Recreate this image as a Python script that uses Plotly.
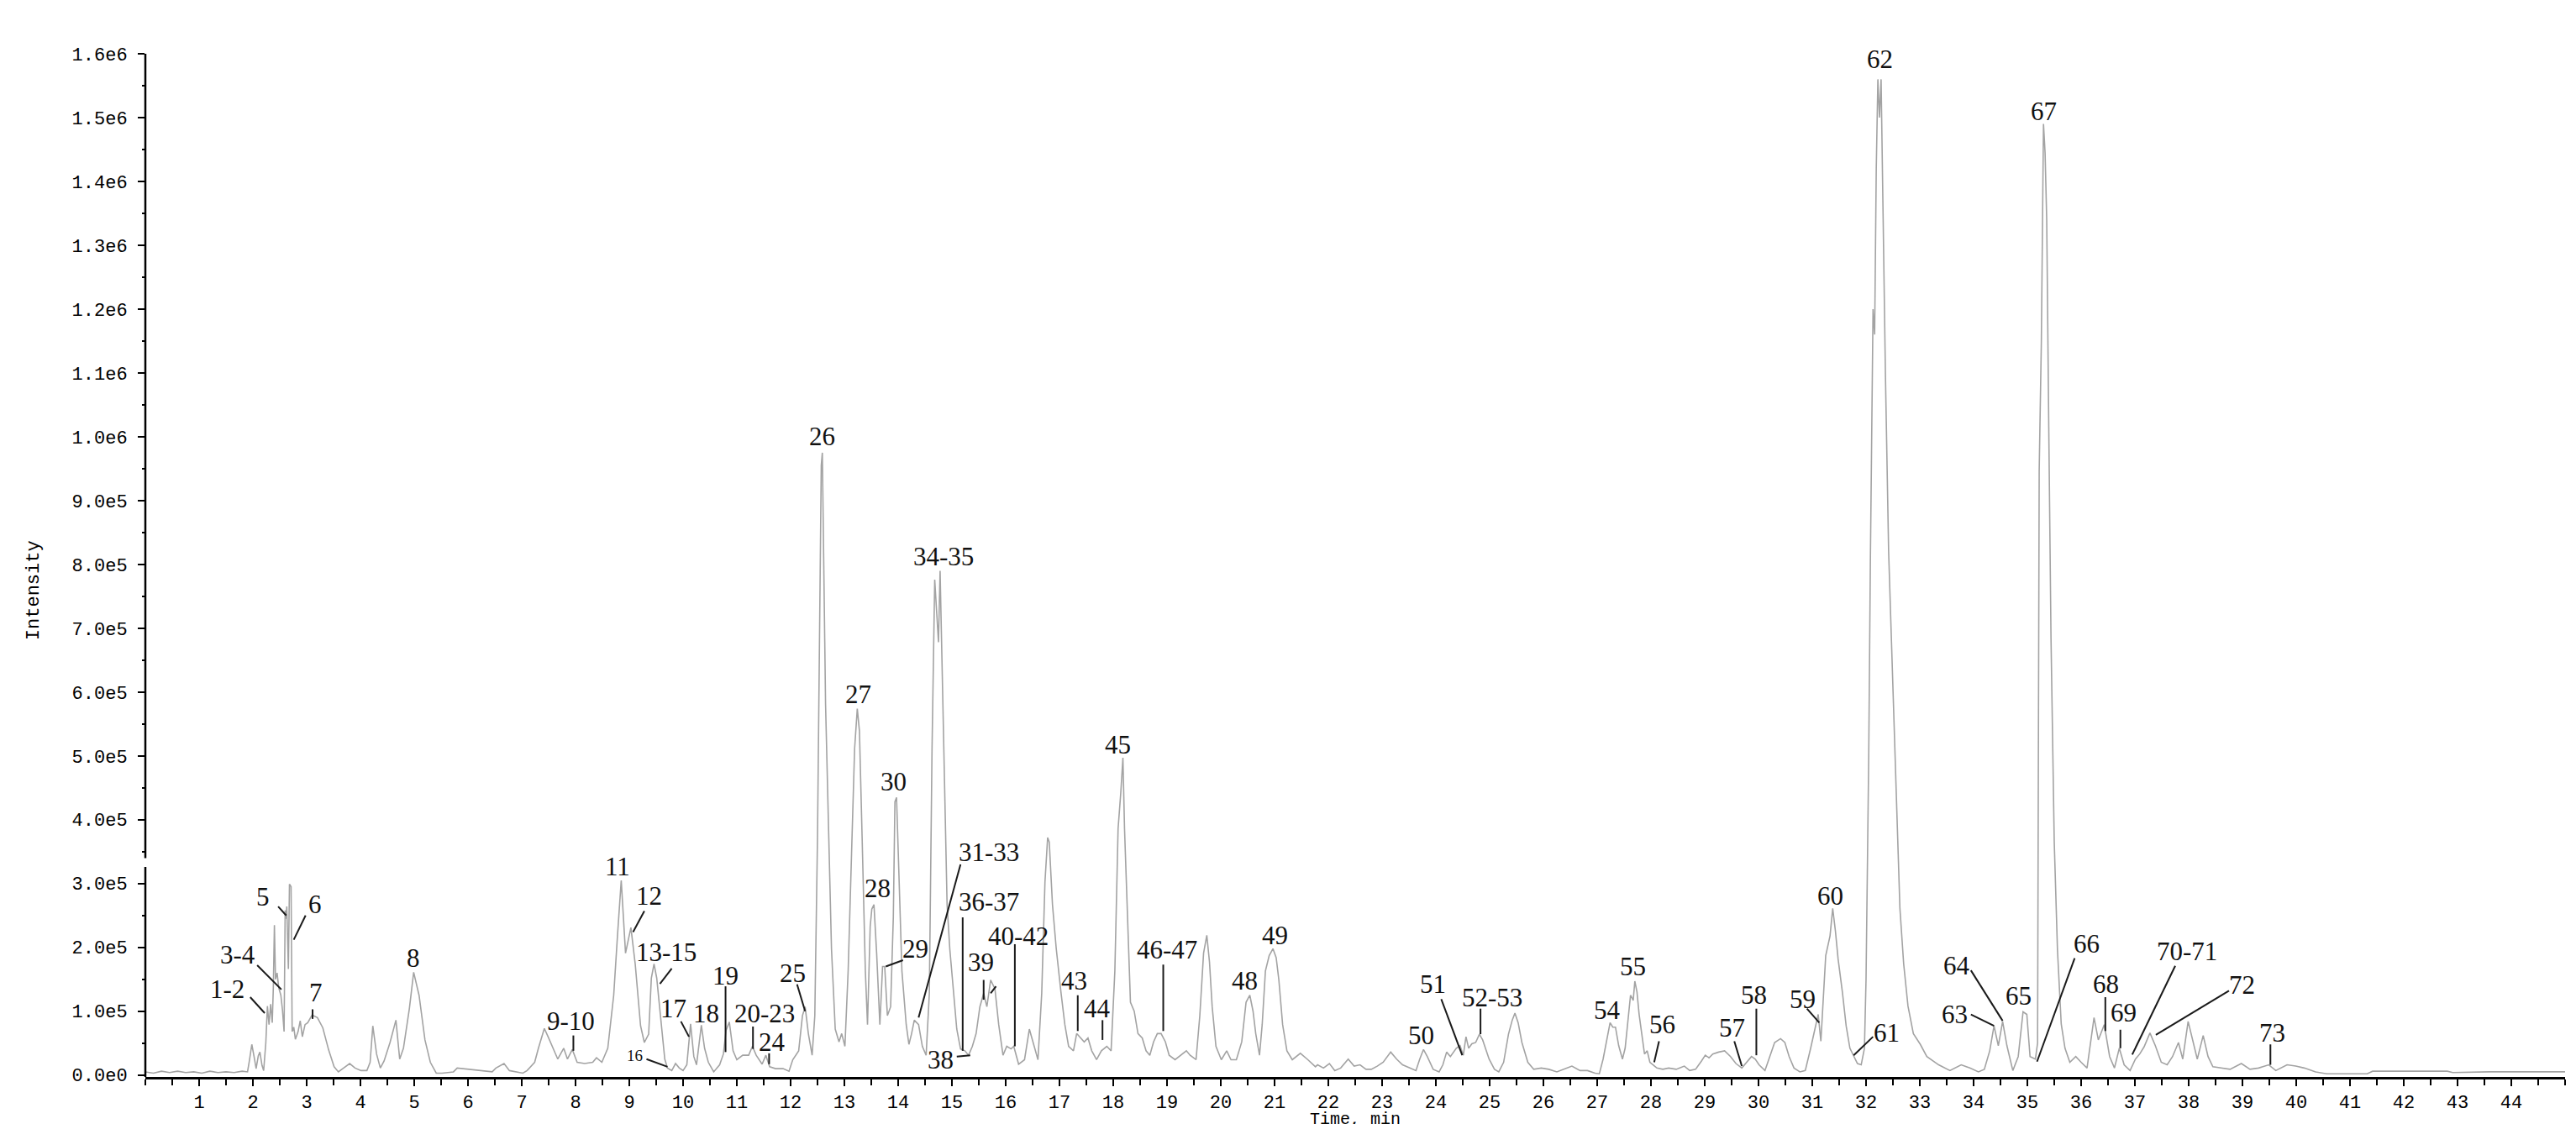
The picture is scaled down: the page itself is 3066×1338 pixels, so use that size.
import math
import plotly.graph_objects as go

# ---------------- data ----------------
# retention time, min
time_min = [
    0.0, 0.15, 0.3, 0.45, 0.6, 0.75, 0.9, 1.05, 1.2, 1.35, 1.5, 1.65, 1.8, 1.9,
    1.93, 1.98, 2.03, 2.06, 2.10, 2.13, 2.17, 2.20, 2.24, 2.27, 2.30, 2.33, 2.36, 2.38,
    2.40, 2.42, 2.45, 2.48, 2.52, 2.55, 2.58, 2.60, 2.62, 2.63, 2.66, 2.68, 2.71, 2.73,
    2.76, 2.79, 2.84, 2.88, 2.92, 2.97, 3.02, 3.10, 3.20, 3.30, 3.41, 3.51, 3.59, 3.65,
    3.80, 3.90, 4.01, 4.12, 4.18, 4.23, 4.30, 4.37, 4.44, 4.55, 4.66, 4.73, 4.80, 4.91,
    4.99, 5.09, 5.20, 5.30, 5.41, 5.52, 5.73, 5.80, 6.02, 6.23, 6.45, 6.52, 6.67, 6.77,
    6.88, 7.02, 7.10, 7.24, 7.31, 7.42, 7.49, 7.60, 7.67, 7.78, 7.85, 7.94, 8.03, 8.17,
    8.32, 8.39, 8.49, 8.60, 8.71, 8.78, 8.85, 8.93, 8.98, 9.03, 9.11, 9.21, 9.28, 9.36,
    9.41, 9.46, 9.51, 9.57, 9.66, 9.71, 9.79, 9.86, 9.93, 10.00, 10.07, 10.14, 10.20,
    10.25, 10.34, 10.40, 10.47, 10.57, 10.68, 10.75, 10.80, 10.86, 10.93, 11.00, 11.11,
    11.22, 11.29, 11.36, 11.47, 11.54, 11.61, 11.72, 11.86, 11.97, 12.04, 12.15, 12.22,
    12.27, 12.33, 12.40, 12.45, 12.50, 12.53, 12.57, 12.59, 12.62, 12.65, 12.71, 12.76,
    12.83, 12.90, 12.95, 13.01, 13.07, 13.14, 13.19, 13.24, 13.28, 13.33, 13.39, 13.43,
    13.48, 13.51, 13.55, 13.60, 13.66, 13.71, 13.75, 13.80, 13.86, 13.91, 13.94, 13.97,
    14.02, 14.07, 14.15, 14.20, 14.25, 14.30, 14.38, 14.45, 14.52, 14.58, 14.63, 14.68,
    14.71, 14.75, 14.78, 14.82, 14.86, 14.91, 14.96, 15.02, 15.09, 15.16, 15.24, 15.31,
    15.38, 15.45, 15.52, 15.59, 15.65, 15.72, 15.80, 15.87, 15.95, 16.02, 16.10, 16.15,
    16.24, 16.35, 16.44, 16.53, 16.60, 16.67, 16.73, 16.78, 16.81, 16.87, 16.94, 17.03,
    17.10, 17.17, 17.26, 17.32, 17.39, 17.46, 17.53, 17.60, 17.69, 17.78, 17.88, 17.96,
    18.03, 18.09, 18.14, 18.18, 18.21, 18.26, 18.32, 18.39, 18.46, 18.54, 18.61, 18.68,
    18.75, 18.82, 18.89, 18.97, 19.04, 19.15, 19.25, 19.36, 19.43, 19.54, 19.61, 19.68,
    19.74, 19.79, 19.84, 19.91, 20.01, 20.11, 20.19, 20.29, 20.39, 20.47, 20.54, 20.60,
    20.65, 20.72, 20.77, 20.83, 20.90, 20.97, 21.03, 21.08, 21.15, 21.23, 21.33, 21.48,
    21.62, 21.76, 21.80, 21.91, 22.02, 22.12, 22.23, 22.37, 22.48, 22.59, 22.70, 22.80,
    22.91, 23.02, 23.16, 23.27, 23.38, 23.52, 23.63, 23.70, 23.77, 23.84, 23.95, 24.06,
    24.13, 24.20, 24.27, 24.38, 24.45, 24.51, 24.56, 24.61, 24.67, 24.74, 24.81, 24.87,
    24.92, 24.99, 25.09, 25.17, 25.26, 25.35, 25.42, 25.47, 25.53, 25.60, 25.71, 25.82,
    25.96, 26.10, 26.25, 26.39, 26.53, 26.68, 26.82, 26.96, 27.04, 27.11, 27.18, 27.24,
    27.29, 27.34, 27.40, 27.47, 27.52, 27.57, 27.62, 27.67, 27.70, 27.74, 27.78, 27.83,
    27.88, 27.93, 27.98, 28.04, 28.11, 28.22, 28.33, 28.47, 28.62, 28.72, 28.83, 28.94,
    29.01, 29.08, 29.15, 29.26, 29.37, 29.48, 29.58, 29.69, 29.78, 29.87, 29.94, 30.01,
    30.12, 30.23, 30.30, 30.41, 30.49, 30.57, 30.66, 30.77, 30.87, 30.97, 31.04, 31.11,
    31.16, 31.20, 31.25, 31.33, 31.38, 31.43, 31.48, 31.56, 31.63, 31.70, 31.77, 31.84,
    31.91, 31.97, 32.00, 32.02, 32.05, 32.08, 32.11, 32.13, 32.16, 32.19, 32.22, 32.25,
    32.28, 32.31, 32.36, 32.42, 32.48, 32.52, 32.56, 32.63, 32.70, 32.78, 32.88, 33.01,
    33.13, 33.35, 33.56, 33.77, 33.93, 34.09, 34.20, 34.30, 34.38, 34.46, 34.54, 34.62,
    34.73, 34.83, 34.92, 34.99, 35.05, 35.15, 35.19, 35.22, 35.26, 35.30, 35.33, 35.36,
    35.40, 35.44, 35.50, 35.56, 35.63, 35.70, 35.79, 35.90, 36.00, 36.11, 36.24, 36.32,
    36.43, 36.53, 36.62, 36.71, 36.80, 36.91, 37.01, 37.09, 37.17, 37.28, 37.38, 37.49,
    37.60, 37.70, 37.81, 37.89, 37.99, 38.07, 38.16, 38.27, 38.36, 38.45, 38.61, 38.77,
    38.98, 39.14, 39.30, 39.49, 39.62, 39.83, 39.99, 40.15, 40.36, 40.57, 41.32, 41.42,
    42.81, 42.91, 43.6, 44.3, 45.0,
]

# intensity, thousands of counts
intensity_k = [
    5, 3, 6, 4, 6, 4, 5, 3, 6, 4, 5, 4, 6, 5,
    20, 48, 25, 10, 30, 36, 15, 7, 50, 108, 79, 111, 82, 137,
    235, 150, 160, 137, 125, 102, 68, 258, 245, 264, 166, 299, 295, 68,
    75, 56, 68, 85, 60, 79, 82, 94, 90, 74, 39, 13, 5, 9,
    18, 11, 7, 7, 20, 77, 33, 11, 22, 51, 86, 25, 42, 104,
    161, 125, 55, 20, 3, 3, 5, 11, 9, 7, 5, 11, 18, 7,
    5, 3, 7, 20, 42, 73, 60, 38, 25, 42, 25, 40, 20, 18,
    20, 27, 20, 42, 125, 218, 305, 191, 209, 231, 174, 77, 51, 64,
    152, 174, 152, 104, 25, 11, 7, 18, 11, 7, 16, 80, 29,
    16, 78, 42, 20, 5, 16, 33, 70, 83, 38, 24, 31,
    31, 45, 31, 17, 31, 13, 10, 10, 6, 24, 38, 93,
    107, 65, 31, 93, 372, 616, 955, 975, 790, 581, 372, 198,
    72, 52, 65, 45, 163, 372, 511, 574, 539, 372, 163, 79,
    233, 260, 267, 191, 79, 170, 170, 93, 107, 247, 428, 435,
    302, 163, 79, 48, 65, 86, 79, 45, 31, 128, 511, 776,
    734, 678, 790, 616, 442, 267, 198, 142, 72, 41, 38, 31,
    45, 65, 107, 128, 107, 149, 135, 79, 31, 45, 41, 45,
    17, 24, 72, 45, 24, 128, 302, 372, 365, 267, 198, 128,
    79, 45, 38, 65, 58, 52, 58, 38, 24, 38, 45, 38,
    163, 386, 442, 497, 386, 267, 114, 100, 65, 58, 38, 31,
    52, 65, 65, 52, 31, 24, 31, 38, 31, 24, 93, 191,
    219, 177, 107, 45, 24, 38, 24, 24, 52, 114, 125, 100,
    65, 31, 79, 163, 187, 198, 184, 149, 79, 38, 24, 34,
    24, 13, 16, 11, 18, 7, 11, 25, 14, 16, 9, 9,
    14, 20, 36, 25, 16, 11, 7, 25, 40, 29, 9, 5,
    16, 36, 29, 42, 46, 31, 60, 42, 49, 51, 64, 55,
    42, 25, 9, 5, 20, 64, 86, 97, 82, 51, 20, 9,
    11, 9, 5, 9, 14, 7, 7, 3, 2, 25, 55, 82,
    75, 75, 46, 25, 42, 86, 125, 117, 147, 130, 95, 64,
    33, 38, 20, 16, 11, 9, 11, 9, 14, 7, 9, 22,
    31, 27, 33, 36, 38, 29, 18, 11, 20, 29, 25, 16,
    7, 33, 51, 57, 51, 29, 11, 5, 7, 42, 68, 95,
    53, 108, 187, 218, 261, 226, 182, 130, 77, 42, 29, 18,
    16, 42, 150, 283, 500, 800, 1050, 1200, 1160, 1420, 1560, 1500,
    1560, 1380, 1100, 820, 660, 568, 437, 261, 174, 108, 65, 48,
    29, 16, 7, 16, 11, 5, 9, 38, 77, 46, 84, 46,
    7, 29, 99, 95, 29, 25, 50, 947, 1148, 1490, 1444, 1339,
    1000, 683, 365, 196, 80, 42, 20, 29, 20, 11, 90, 55,
    79, 29, 11, 42, 16, 7, 25, 33, 44, 66, 46, 20,
    16, 29, 51, 25, 84, 55, 25, 62, 29, 13, 11, 9,
    18, 9, 11, 16, 7, 16, 14, 11, 5, 2, 2, 6,
    6, 4, 5, 5, 5,
]

# peak labels: text, centre of the text (min, thousands of counts)
label_text = ["1-2", "3-4", "5", "6", "7", "8", "9-10", "11", "12", "13-15", "16", "17",
              "18", "19", "20-23", "24", "25", "26", "27", "28", "29", "30", "31-33",
              "34-35", "36-37", "38", "39", "40-42", "43", "44", "45", "46-47", "48",
              "49", "50", "51", "52-53", "54", "55", "56", "57", "58", "59", "60", "61",
              "62", "63", "64", "65", "66", "67", "68", "69", "70-71", "72", "73"]
label_t = [1.53, 1.72, 2.19, 3.15, 3.17, 4.98, 7.92, 8.78, 9.36, 9.68, 9.10, 9.82,
           10.43, 10.79, 11.51, 11.65, 12.04, 12.58, 13.26, 13.61, 14.32, 13.91, 15.68,
           14.84, 15.69, 14.79, 15.54, 16.23, 17.27, 17.71, 18.09, 19.00, 20.44,
           21.00, 23.72, 23.95, 25.04, 27.19, 27.66, 28.21, 29.51, 29.91, 30.82, 31.33, 32.38,
           32.25, 33.65, 33.69, 34.83, 36.10, 35.30, 36.46, 36.79, 37.97, 38.99, 39.56]
label_k = [134, 189, 279, 267, 129, 183, 84, 327, 281, 193, 31, 104,
           97, 156, 97, 52, 159, 1000, 596, 292, 198, 460, 349,
           812, 271, 24, 177, 217, 148, 104, 518, 196, 148,
           219, 62, 143, 121, 102, 170, 79, 74, 125, 119, 280, 66,
           1591, 95, 171, 124, 206, 1510, 143, 98, 194, 141, 66]

# leader lines: label, start (min, k), end (min, k)
leader_label = ["1-2", "3-4", "5", "6", "7", "9-10", "12", "13-15", "16", "17", "19",
                "20-23", "24", "25", "29", "31-33", "36-37", "38", "39", "39", "40-42",
                "43", "44", "46-47", "51", "52-53", "56", "57", "58", "59", "61", "63",
                "64", "66", "68", "69", "70-71", "72", "73"]
leader_t0 = [1.95, 2.08, 2.47, 2.98, 3.11, 7.96, 9.28, 9.79, 9.32, 9.96, 10.79,
             11.30, 11.60, 12.12, 14.09, 15.16, 15.20, 15.09, 15.59, 15.72, 16.17,
             17.34, 17.80, 18.93, 24.10, 24.83, 28.15, 29.55, 29.96, 30.90, 32.13, 33.95,
             33.95, 35.88, 36.45, 36.73, 37.75, 38.75, 39.52]
leader_k0 = [122, 172, 264, 250, 103, 62, 257, 167, 25, 84, 139,
             76, 34, 142, 180, 330, 247, 29, 149, 128, 205,
             125, 86, 173, 119, 104, 53, 53, 104, 104, 60, 95,
             164, 183, 122, 71, 171, 132, 48]
leader_t1 = [2.22, 2.53, 2.62, 2.76, 3.11, 7.96, 9.07, 9.57, 9.71, 10.11, 10.79,
             11.30, 11.60, 12.27, 13.77, 14.38, 15.20, 15.34, 15.59, 15.82, 16.17,
             17.34, 17.80, 18.93, 24.49, 24.83, 28.06, 29.69, 29.96, 31.13, 31.77, 34.38,
             34.54, 35.18, 36.45, 36.73, 36.95, 37.39, 39.52]
leader_k1 = [97, 134, 250, 212, 88, 38, 224, 143, 13, 60, 36,
             41, 17, 100, 170, 90, 38, 31, 118, 139, 45,
             69, 55, 69, 31, 64, 20, 14, 31, 82, 31, 77,
             85, 21, 69, 42, 32, 63, 16]

# axis ticks
x_ticks = list(range(1, 45))
y_ticks = [i * 100000 for i in range(0, 17)]

# ---------------- figure ----------------
def sci(v):
    if v == 0:
        return "0.0e0"
    e = int(math.floor(math.log10(v)))
    return f"{v / 10 ** e:.1f}e{e}"

intensity = [v * 1000 for v in intensity_k]

fig = go.Figure()
fig.add_trace(go.Scatter(x=time_min, y=intensity, mode="lines",
                         line=dict(color="#a3a3a3", width=1.6),
                         hoverinfo="skip", showlegend=False))

label_font = dict(family="Liberation Serif, Times New Roman, serif", size=31, color="#111111")
for txt, t, k in zip(label_text, label_t, label_k):
    f = dict(label_font)
    if txt == "16":
        f["size"] = 19
    fig.add_annotation(x=t, y=k * 1000, xref="x", yref="y", text=txt, showarrow=False,
                       font=f, xanchor="center", yanchor="middle")

shapes = []
for t0, k0, t1, k1 in zip(leader_t0, leader_k0, leader_t1, leader_k1):
    shapes.append(dict(type="line", xref="x", yref="y", x0=t0, y0=k0 * 1000,
                       x1=t1, y1=k1 * 1000, line=dict(color="#1a1a1a", width=2)))

# broken y axis line
y_min = -3000
shapes.append(dict(type="line", xref="paper", yref="y", x0=0, x1=0, y0=y_min, y1=326000,
                   line=dict(color="black", width=2.5)))
shapes.append(dict(type="line", xref="paper", yref="y", x0=0, x1=0, y0=340000, y1=1600000,
                   line=dict(color="black", width=2.5)))

mono = "Liberation Mono, DejaVu Sans Mono, Courier New, monospace"

fig.update_layout(
    width=3066, height=1338,
    margin=dict(l=165, r=21, t=56, b=64),
    paper_bgcolor="white", plot_bgcolor="white",
    shapes=shapes,
    xaxis=dict(range=[0, 45], showgrid=False, zeroline=False,
               showline=True, linecolor="black", linewidth=3,
               tickmode="array", tickvals=x_ticks, ticktext=[str(v) for v in x_ticks],
               ticks="outside", ticklen=8, tickwidth=2, tickcolor="black",
               minor=dict(dtick=0.5, tick0=0, ticks="outside", ticklen=7, tickwidth=2,
                          tickcolor="black"),
               tickfont=dict(family=mono, size=22, color="black")),
    yaxis=dict(range=[y_min, 1600000], showgrid=False, zeroline=False, showline=False,
               tickmode="array", tickvals=y_ticks, ticktext=[sci(v) for v in y_ticks],
               ticks="outside", ticklen=8, tickwidth=2, tickcolor="black",
               ticklabelstandoff=8,
               minor=dict(dtick=50000, tick0=0, ticks="outside", ticklen=3, tickwidth=2,
                          tickcolor="black"),
               tickfont=dict(family=mono, size=22, color="black")),
)

fig.add_annotation(xref="paper", yref="paper", x=-0.0462, y=0.476, text="Intensity",
                   textangle=-90, showarrow=False, xanchor="center", yanchor="middle",
                   font=dict(family=mono, size=22, color="black"))
fig.add_annotation(xref="paper", yref="paper", x=0.5, y=-0.0300, text="Time, min",
                   showarrow=False, xanchor="center", yanchor="top",
                   font=dict(family=mono, size=20, color="black"))

fig.write_html("out.html")
